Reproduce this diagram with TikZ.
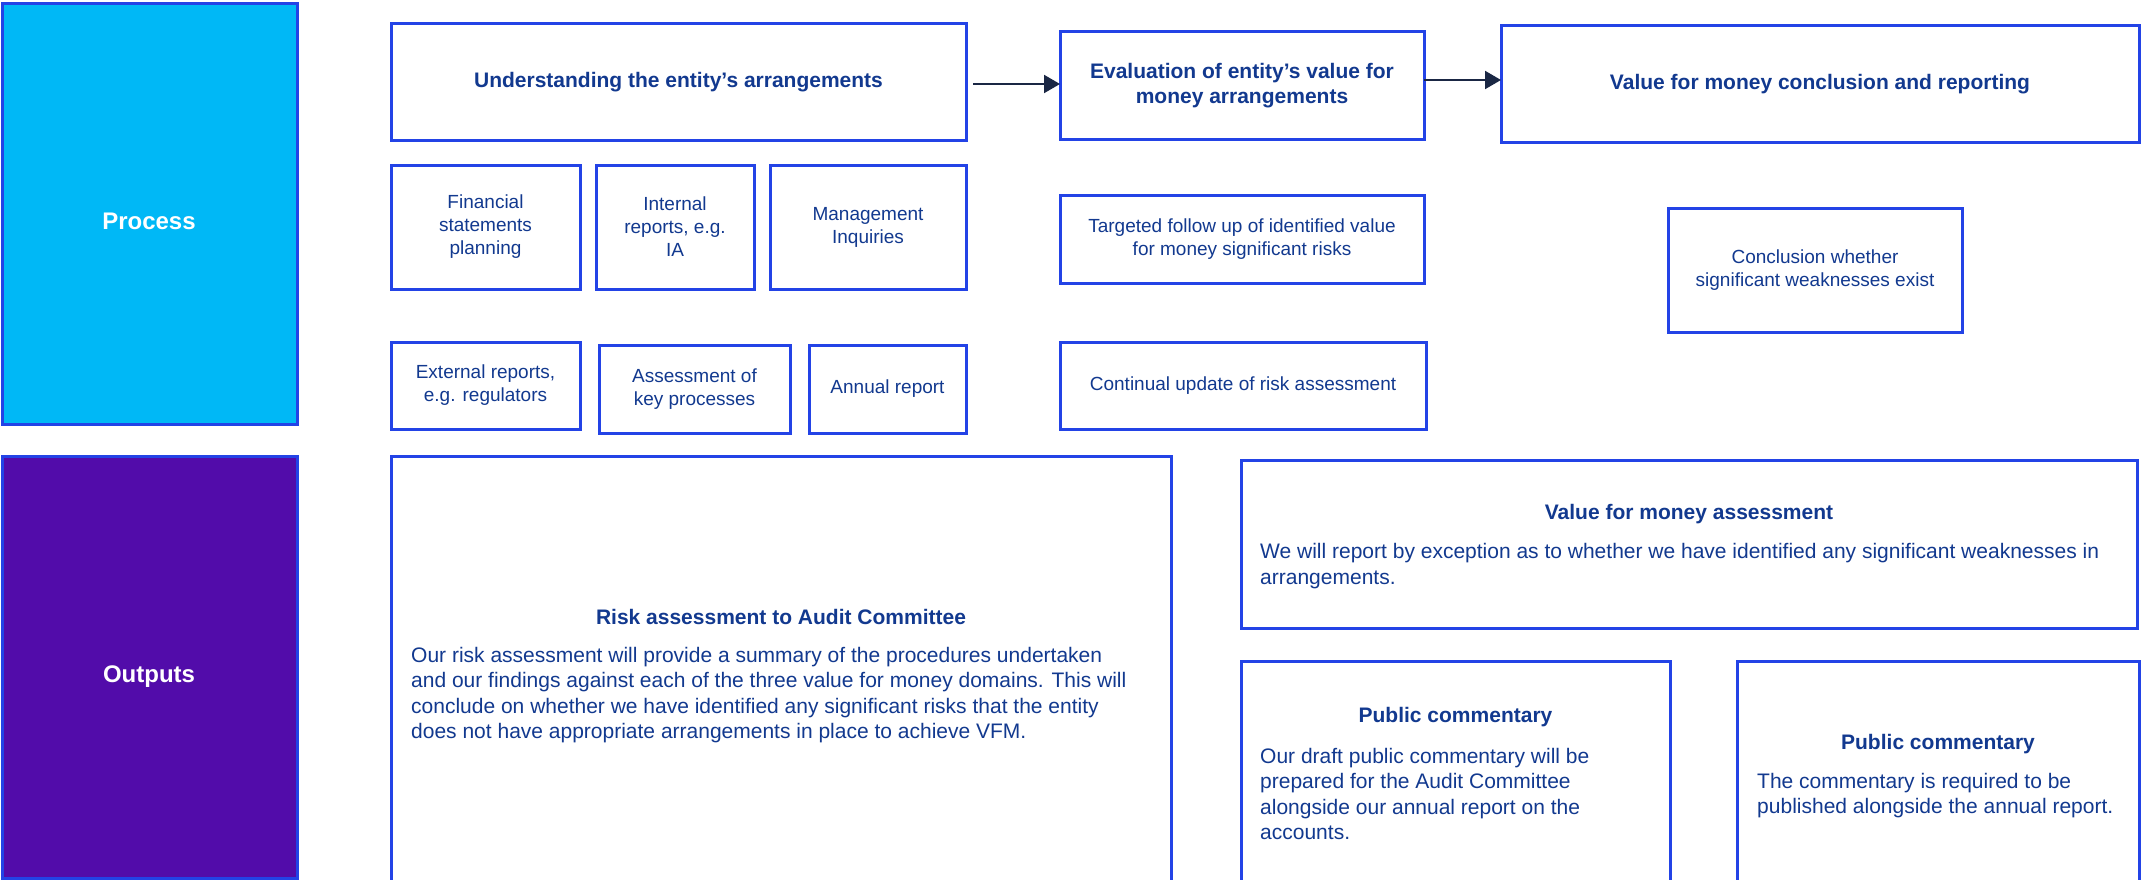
\documentclass[tikz,border=0pt]{standalone}
\usepackage{fontspec}
\setmainfont{Liberation Sans}
\usetikzlibrary{arrows.meta}
\definecolor{txt}{HTML}{12398F}
\definecolor{bord}{HTML}{2343E6}
\definecolor{proc}{HTML}{00B8F6}
\definecolor{outp}{HTML}{520CAA}
\definecolor{arrc}{HTML}{1A2744}
\begin{document}
\begin{tikzpicture}[x=1pt,y=-1pt,
 box/.style={draw=bord,line width=3pt,fill=white,inner sep=0pt,outer sep=0pt,align=center,text=txt},
 small/.style={font=\fontsize{19}{23}\selectfont},
 head/.style={font=\fontsize{21}{25}\selectfont\bfseries,text=txt,inner sep=0pt},
 body/.style={font=\fontsize{21}{25.3}\selectfont,text=txt,align=left,inner sep=0pt,anchor=west},
 lab/.style={font=\fontsize{24}{28}\selectfont\bfseries,text=white,inner sep=0pt},
 arr/.style={draw=arrc,line width=2pt,-{Triangle[length=16pt,width=18pt]}}]
\useasboundingbox (0,0) rectangle (2141,880);

% side bands
\node[box,fill=proc,minimum width=295,minimum height=421] (process) at (149.5,214) {};
\node[lab] (processlab) at (149,221) {Process};
\node[box,fill=outp,minimum width=295,minimum height=422] (outputs) at (149.5,667) {};
\node[lab] (outputslab) at (149,677) {Outputs};

% top row
\node[box,head,minimum width=575,minimum height=117] (und) at (678.5,82.5) {Understanding the entity’s arrangements};
\node[box,head,minimum width=364,minimum height=108] (eval) at (1242,86) {Evaluation of entity’s value for\\money arrangements};
\node[box,head,minimum width=638,minimum height=117] (vfmc) at (1820,84.5) {Value for money conclusion and reporting};

% small boxes
\node[box,small,minimum width=189,minimum height=124] (fin) at (485.5,227) {Financial\\statements\\planning};
\node[box,small,minimum width=158,minimum height=124] (int) at (675,227) {Internal\\reports, e.g.\\IA};
\node[box,small,minimum width=196,minimum height=124] (mgmt) at (868,227) {Management\\Inquiries};
\node[box,small,minimum width=189,minimum height=87] (ext) at (485.5,385.5) {External reports,\\e.g. regulators};
\node[box,small,minimum width=191,minimum height=88] (assess) at (694.5,389) {Assessment of\\key processes};
\node[box,small,minimum width=157,minimum height=88] (annual) at (887.5,389) {Annual report};
\node[box,small,minimum width=364,minimum height=88] (target) at (1242,239) {Targeted follow up of identified value\\for money significant risks};
\node[box,small,minimum width=366,minimum height=87] (cont) at (1243,385.5) {Continual update of risk assessment};
\node[box,small,minimum width=294,minimum height=124] (concl) at (1815,270) {Conclusion whether\\significant weaknesses exist};

% arrows
\draw[arr,shorten <=7pt] ([yshift=-1.5pt]und.east) -- ([yshift=-1.5pt]und.east -| eval.west);
\draw[arr] ([yshift=6pt]eval.east) -- ([yshift=6pt]eval.east -| vfmc.west);

% outputs boxes
\node[box,minimum width=780,minimum height=425] (risk) at (781,668.5) {};
\node[head] (risktitle) at (781,617) {Risk assessment to Audit Committee};
\node[body] (riskbody) at (411,695) {Our risk assessment will provide a summary of the procedures undertaken\\and our findings against each of the three value for money domains. This will\\conclude on whether we have identified any significant risks that the entity\\does not have appropriate arrangements in place to achieve VFM.};

\node[box,minimum width=896,minimum height=168] (vfma) at (1689,544) {};
\node[head] (vfmatitle) at (1689,514) {Value for money assessment};
\node[body] (vfmabody) at (1260,566) {We will report by exception as to whether we have identified any significant weaknesses in\\arrangements.};

\node[box,minimum width=429,minimum height=220] (pc1) at (1455.5,771) {};
\node[head] (pc1title) at (1455.5,717) {Public commentary};
\node[body] (pc1body) at (1260,794) {Our draft public commentary will be\\prepared for the Audit Committee\\alongside our annual report on the\\accounts.};

\node[box,minimum width=402,minimum height=220] (pc2) at (1938,771) {};
\node[head] (pc2title) at (1938,744) {Public commentary};
\node[body] (pc2body) at (1757,795.5) {The commentary is required to be\\published alongside the annual report.};
\end{tikzpicture}
\end{document}
